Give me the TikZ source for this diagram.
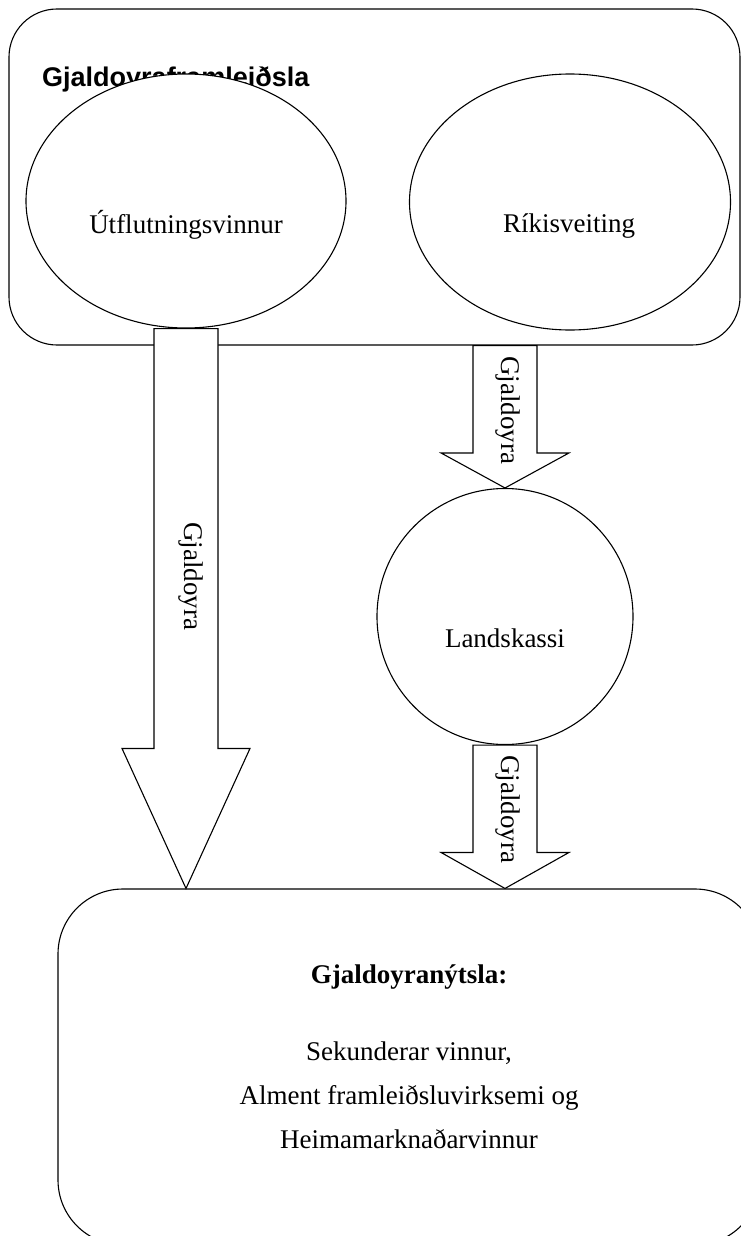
\documentclass[tikz,border=0pt]{standalone}
\usepackage{fontspec}
\setmainfont{Liberation Serif}
\newfontfamily\headfont{Liberation Sans}
\usetikzlibrary{calc,shapes.geometric}

% block arrow: from top point #1 down to tip #2, head length #3
\newcommand{\flowarrow}[3]{%
  \draw[blockarrow] let \p1=(#1), \p2=(#2) in
    (\x1-32pt,\y1) -- (\x1-32pt,\y2+#3) -- (\x1-64pt,\y2+#3) -- (\x2,\y2)
    -- (\x1+64pt,\y2+#3) -- (\x1+32pt,\y2+#3) -- (\x1+32pt,\y1) -- cycle;}

\begin{document}
\begin{tikzpicture}[x=1pt,y=-1pt,
  every node/.style={font=\fontsize{27}{44}\selectfont,inner sep=0pt},
  panel/.style={draw,line width=1.1pt},
  bubble/.style={draw,ellipse,fill=white,line width=1.1pt},
  ring/.style={draw,circle,fill=white,line width=1.1pt},
  blockarrow/.style={draw,fill=white,line width=1.1pt},
  flowlabel/.style={rotate=-90}]
\useasboundingbox (0,0) rectangle (741,1236);
% top panel
\node[panel,rounded corners=48pt,minimum width=731pt,minimum height=336pt] (prod) at (374.5,177) {};
\node[anchor=base west,font=\headfont\bfseries\fontsize{27}{30}\selectfont] (prodtitle) at (42,87) {Gjaldoyraframleiðsla};
\node[bubble,minimum width=320pt,minimum height=254pt] (utf) at (186,201) {};
\node[bubble,minimum width=321pt,minimum height=256pt] (rik) at (570,202) {};
\node[anchor=base] (utftext) at (186,233) {Útflutningsvinnur};
\node[anchor=base] (riktext) at (569,232) {Ríkisveiting};
% landskassi
\node[ring,minimum size=256pt] (lk) at (505,616.5) {};
\node[anchor=base] (lktext) at (505,647) {Landskassi};
% bottom panel
\node[panel,rounded corners=65pt,minimum width=702pt,minimum height=356pt] (nyt) at (409,1067) {};
\node[anchor=base,font=\bfseries\fontsize{27}{44}\selectfont] (nyttitle) at (409,983) {Gjaldoyranýtsla:};
\node[align=center] (nytlist) at (409,1095) {Sekunderar vinnur,\\ Alment framleiðsluvirksemi og\\ Heimamarknaðarvinnur};
% arrows
\flowarrow{utf.south}{utf.south |- nyt.north}{140pt}
\flowarrow{prod.south -| lk}{lk.north}{35pt}
\flowarrow{lk.south}{lk.south |- nyt.north}{36pt}
\node[flowlabel] (lbla) at (191,576) {Gjaldoyra};
\node[flowlabel] (lblb) at (508,410) {Gjaldoyra};
\node[flowlabel] (lblc) at (508,809) {Gjaldoyra};
\end{tikzpicture}
\end{document}
